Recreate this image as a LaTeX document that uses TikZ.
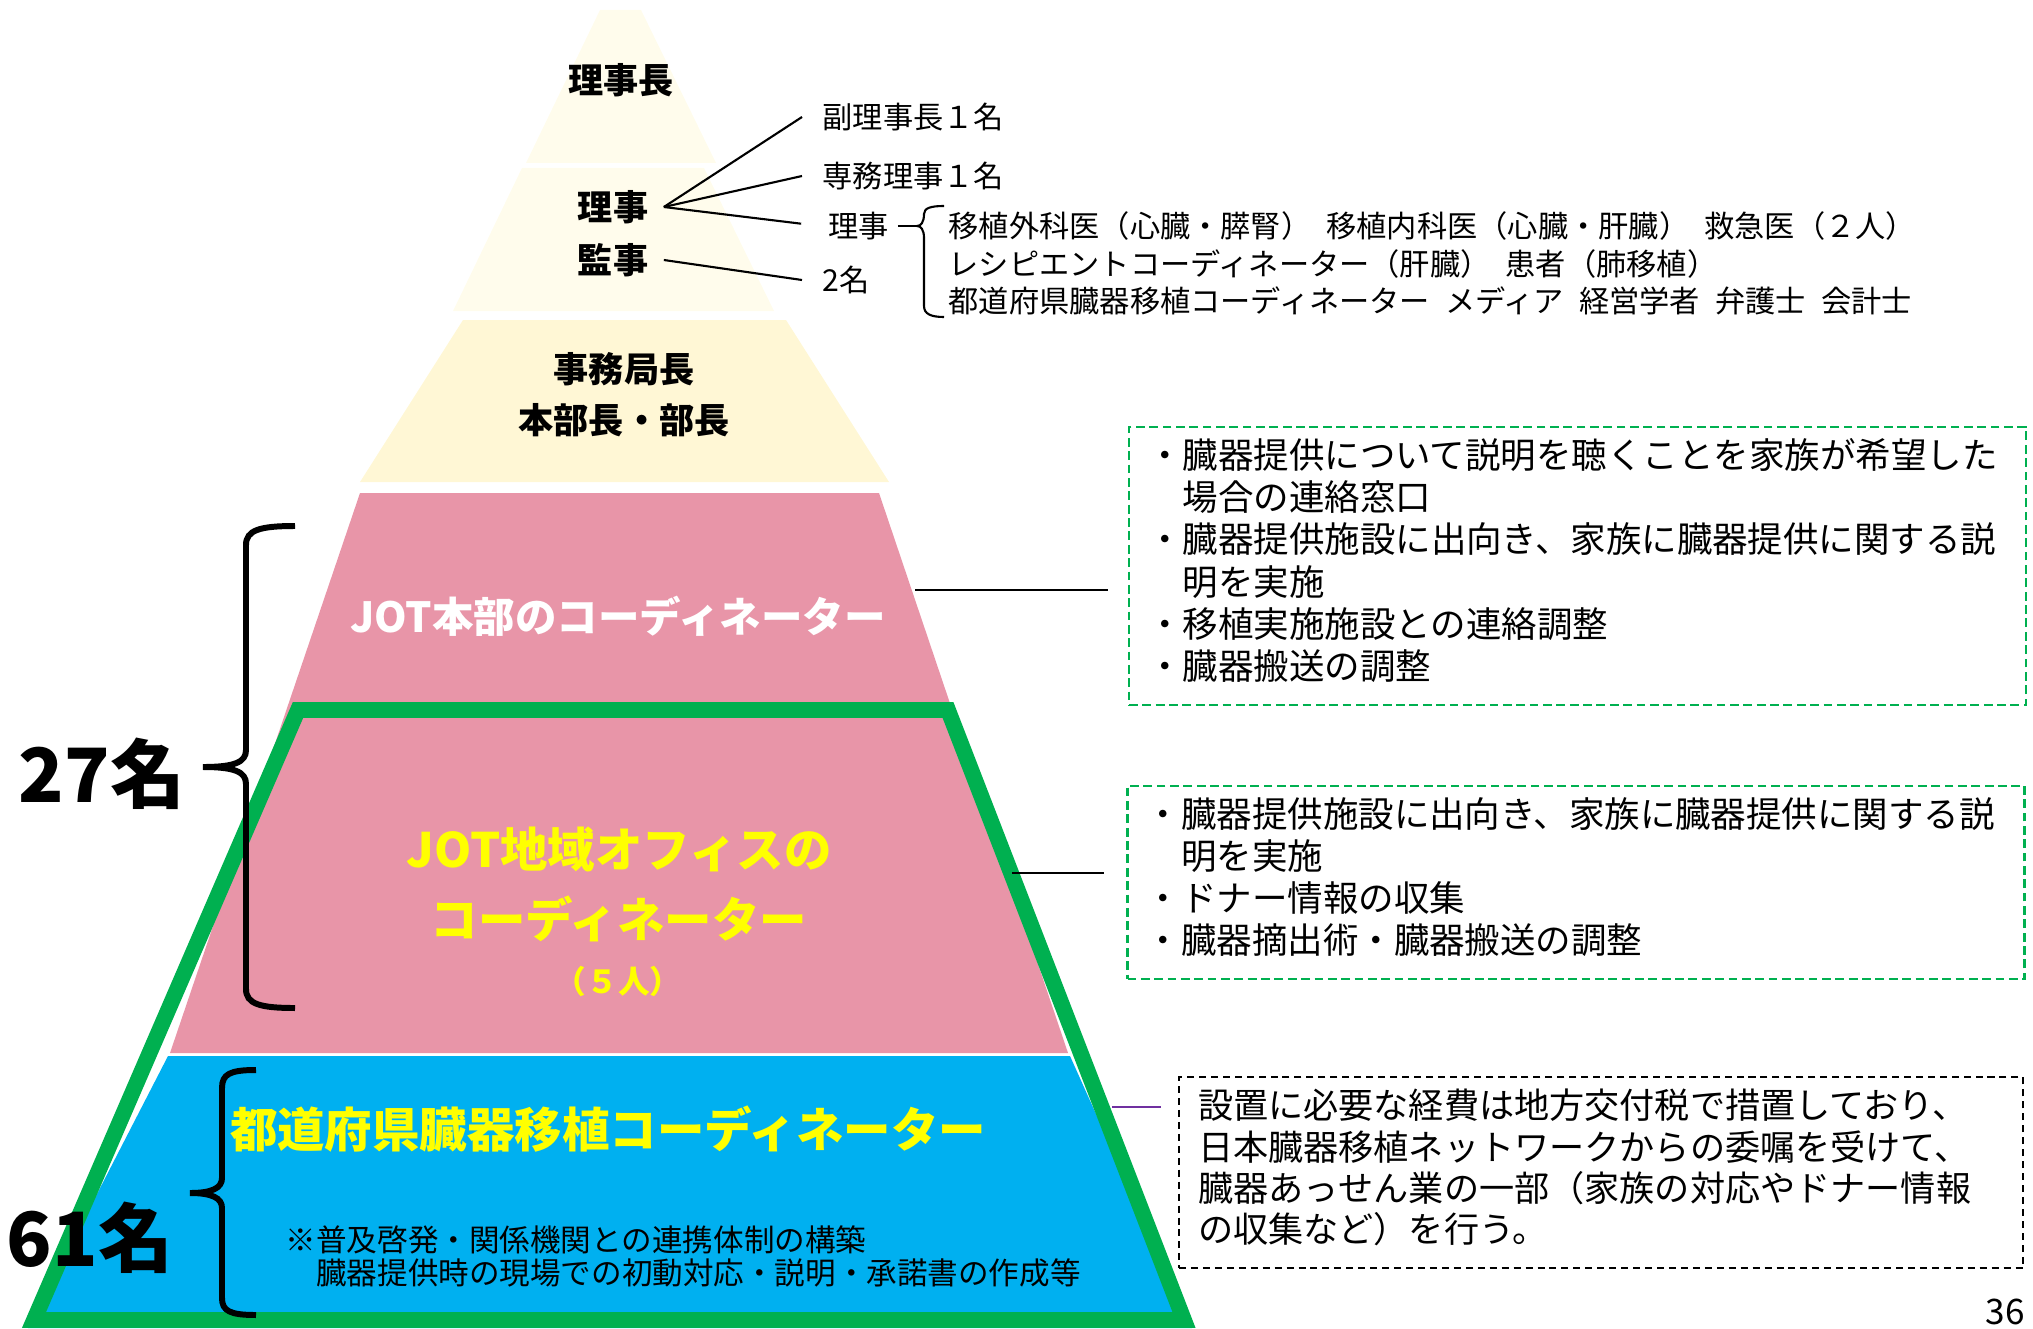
\documentclass[tikz,border=0pt]{standalone}
\usepackage{fontspec}
\setmainfont{Noto Sans CJK JP}
\definecolor{tiercream}{HTML}{FFFCEC}
\definecolor{tierbeige}{HTML}{FFF7D5}
\definecolor{jotpink}{HTML}{E895A8}
\definecolor{jotblue}{HTML}{00B0F0}
\definecolor{jotgreen}{HTML}{00B050}
\definecolor{jotyellow}{HTML}{FFFF00}
\definecolor{linkpurple}{HTML}{7030A0}
\lineskiplimit=-20pt
\newcommand{\lastdp}[1]{\rule[-#1]{0pt}{0pt}}

\begin{document}
\begin{tikzpicture}[x=1cm, y=-1cm,
    tierlbl/.style={font=\fontsize{10}{14.5}\selectfont\bfseries, align=center, inner sep=0pt},
    note/.style={font=\fontsize{8.6}{10.7}\selectfont, align=left, inner xsep=0.2cm, inner ysep=0pt},
    coordlbl/.style={font=\fontsize{13.5}{19.9}\selectfont\bfseries, text=jotyellow, align=center, inner sep=0pt},
    headcount/.style={font=\fontsize{21.3}{24}\selectfont\bfseries, inner sep=0pt},
    cbrace/.style={line width=1.7pt},
    dutybox/.style={draw=jotgreen, line width=0.6pt, dash pattern=on 2.5pt off 1.3pt,
                    align=left, inner xsep=0.18cm, text width=8.61cm,
                    font=\fontsize{10.1}{12}\selectfont},
    link/.style={line width=0.6pt}
  ]
    \useasboundingbox (0,0) rectangle (20.33,13.28);

    % pyramid
    \fill[tiercream] (6.00,0.10) -- (6.41,0.10) -- (7.16,1.63) -- (5.26,1.63) -- cycle;
    \fill[tiercream] (5.22,1.68) -- (7.04,1.68) -- (7.74,3.11) -- (4.53,3.11) -- cycle;
    \fill[tierbeige] (4.63,3.20) -- (7.86,3.20) -- (8.89,4.82) -- (3.60,4.82) -- cycle;
    \fill[jotpink] (3.60,4.93) -- (8.79,4.93) -- (10.68,10.53) -- (1.70,10.53) -- cycle;
    \fill[jotblue] (1.68,10.56) -- (10.70,10.56) -- (11.92,13.28) -- (0.28,13.28) -- cycle;
    \draw[jotgreen, line width=4.5pt] (2.98,7.10) -- (9.48,7.10) -- (11.84,13.20) -- (0.34,13.20) -- cycle;

    \node[tierlbl] (chair) at (6.21,0.80) {理事長};
    \node[tierlbl, inner xsep=0.15cm] (director) at (6.13,2.07) {理事};
    \node[tierlbl, inner xsep=0.15cm] (auditor) at (6.13,2.60) {監事};
    \node[tierlbl] (bureau) at (6.24,3.945) {事務局長\\本部長・部長};

    \node[font=\fontsize{11.8}{13}\selectfont\bfseries, text=white, inner sep=0pt] (hqcoord) at (6.18,6.16)
      {JOT本部のコーディネーター};
    \node[coordlbl] (regcoord) at (6.19,8.84) {JOT地域オフィスの\\コーディネーター};
    \node[font=\fontsize{9}{10}\selectfont\bfseries, text=jotyellow, inner sep=0pt] (regcount) at (6.18,9.81)
      {（５人）};
    \node[coordlbl] (prefcoord) at (6.08,11.29) {都道府県臓器移植コーディネーター};
    \node[font=\fontsize{8.7}{9.4}\selectfont, align=left, inner sep=0pt, anchor=west] (prefnote) at (2.85,12.56)
      {※普及啓発・関係機関との連携体制の構築\\
       \hspace*{1em}臓器提供時の現場での初動対応・説明・承諾書の作成等};

    % board members
    \node[note, anchor=west] (vice) at (8.02,1.17) {副理事長１名};
    \node[note, anchor=west] (exec) at (8.02,1.76) {専務理事１名};
    \node[note, anchor=west, inner xsep=0.08cm] (board) at (8.20,2.26) {理事};
    \node[note, anchor=west] (two) at (8.02,2.80) {2名};
    \node[note, anchor=west, inner xsep=0.04cm] (members) at (9.44,2.635)
      {移植外科医（心臓・膵腎）\enspace 移植内科医（心臓・肝臓）\enspace 救急医（２人）\\
       レシピエントコーディネーター（肝臓）\enspace 患者（肺移植）\\
       都道府県臓器移植コーディネーター\enspace メディア\enspace 経営学者\enspace 弁護士\enspace 会計士};
    \coordinate (brtip) at (9.17,2.26);

    \draw[link] (director.east) -- (vice.west);
    \draw[link] (director.east) -- (exec.west);
    \draw[link, shorten >=0.19cm] (director.east) -- (board.west);
    \draw[link] (auditor.east) -- (two.west);
    \draw[link] (board.east) -- (brtip);
    \draw[link] (9.44,2.06) .. controls (9.31,2.06) and (9.24,2.08) .. (9.24,2.14)
      .. controls (9.24,2.22) and (9.21,2.26) .. (brtip)
      .. controls (9.21,2.26) and (9.24,2.30) .. (9.24,2.38) -- (9.24,3.06)
      .. controls (9.24,3.14) and (9.31,3.17) .. (9.44,3.17);

    % headcounts
    \node[headcount] (n27) at (1.02,7.74) {27名};
    \node[headcount] (n61) at (0.90,12.38) {61名};
    \draw[cbrace] (2.95,5.26) .. controls (2.60,5.26) and (2.46,5.30) .. (2.46,5.45)
      -- (2.46,7.50) .. controls (2.46,7.62) and (2.35,7.67) .. (2.03,7.67)
      .. controls (2.35,7.67) and (2.46,7.72) .. (2.46,7.84)
      -- (2.46,9.89) .. controls (2.46,10.04) and (2.60,10.08) .. (2.95,10.08);
    \draw[cbrace] (2.56,10.70) .. controls (2.30,10.70) and (2.22,10.74) .. (2.22,10.88)
      -- (2.22,11.78) .. controls (2.22,11.88) and (2.12,11.93) .. (1.90,11.93)
      .. controls (2.12,11.93) and (2.22,11.98) .. (2.22,12.08)
      -- (2.22,12.98) .. controls (2.22,13.11) and (2.30,13.15) .. (2.56,13.15);

    % duty boxes
    \node[dutybox, minimum height=2.78cm] (boxhq) at (15.775,5.66)
      {・臓器提供について説明を聴くことを家族が希望した\\
       \hspace*{1em}場合の連絡窓口\\
       ・臓器提供施設に出向き、家族に臓器提供に関する説\\
       \hspace*{1em}明を実施\\
       ・移植実施施設との連絡調整\\
       ・臓器搬送の調整\lastdp{0.14cm}};
    \node[dutybox, minimum height=1.93cm] (boxreg) at (15.76,8.825)
      {・臓器提供施設に出向き、家族に臓器提供に関する説\\
       \hspace*{1em}明を実施\\
       ・ドナー情報の収集\\
       ・臓器摘出術・臓器搬送の調整\lastdp{0.14cm}};
    \node[draw, line width=0.6pt, dash pattern=on 2pt off 1.4pt, align=left, inner xsep=0.19cm,
          text width=8.06cm, minimum height=1.91cm,
          font=\fontsize{10}{11.75}\selectfont] (boxpref) at (16.01,11.725)
      {設置に必要な経費は地方交付税で措置しており、\\
       日本臓器移植ネットワークからの委嘱を受けて、\\
       臓器あっせん業の一部（家族の対応やドナー情報\\
       の収集など）を行う。\lastdp{0.13cm}};

    \coordinate (hqedge) at (9.15,5.90);
    \coordinate (regedge) at (10.12,8.73);
    \coordinate (prefedge) at (11.12,11.07);
    \draw[link, shorten >=0.2cm] (hqedge) -- (hqedge -| boxhq.west);
    \draw[link, shorten >=0.22cm] (regedge) -- (regedge -| boxreg.west);
    \draw[link, linkpurple, shorten >=0.17cm] (prefedge) -- (prefedge -| boxpref.west);

    \node[anchor=south, font=\fontsize{10}{12}\selectfont, inner sep=0pt] (pageno) at (20.05,13.26) {36};
\end{tikzpicture}
\end{document}
